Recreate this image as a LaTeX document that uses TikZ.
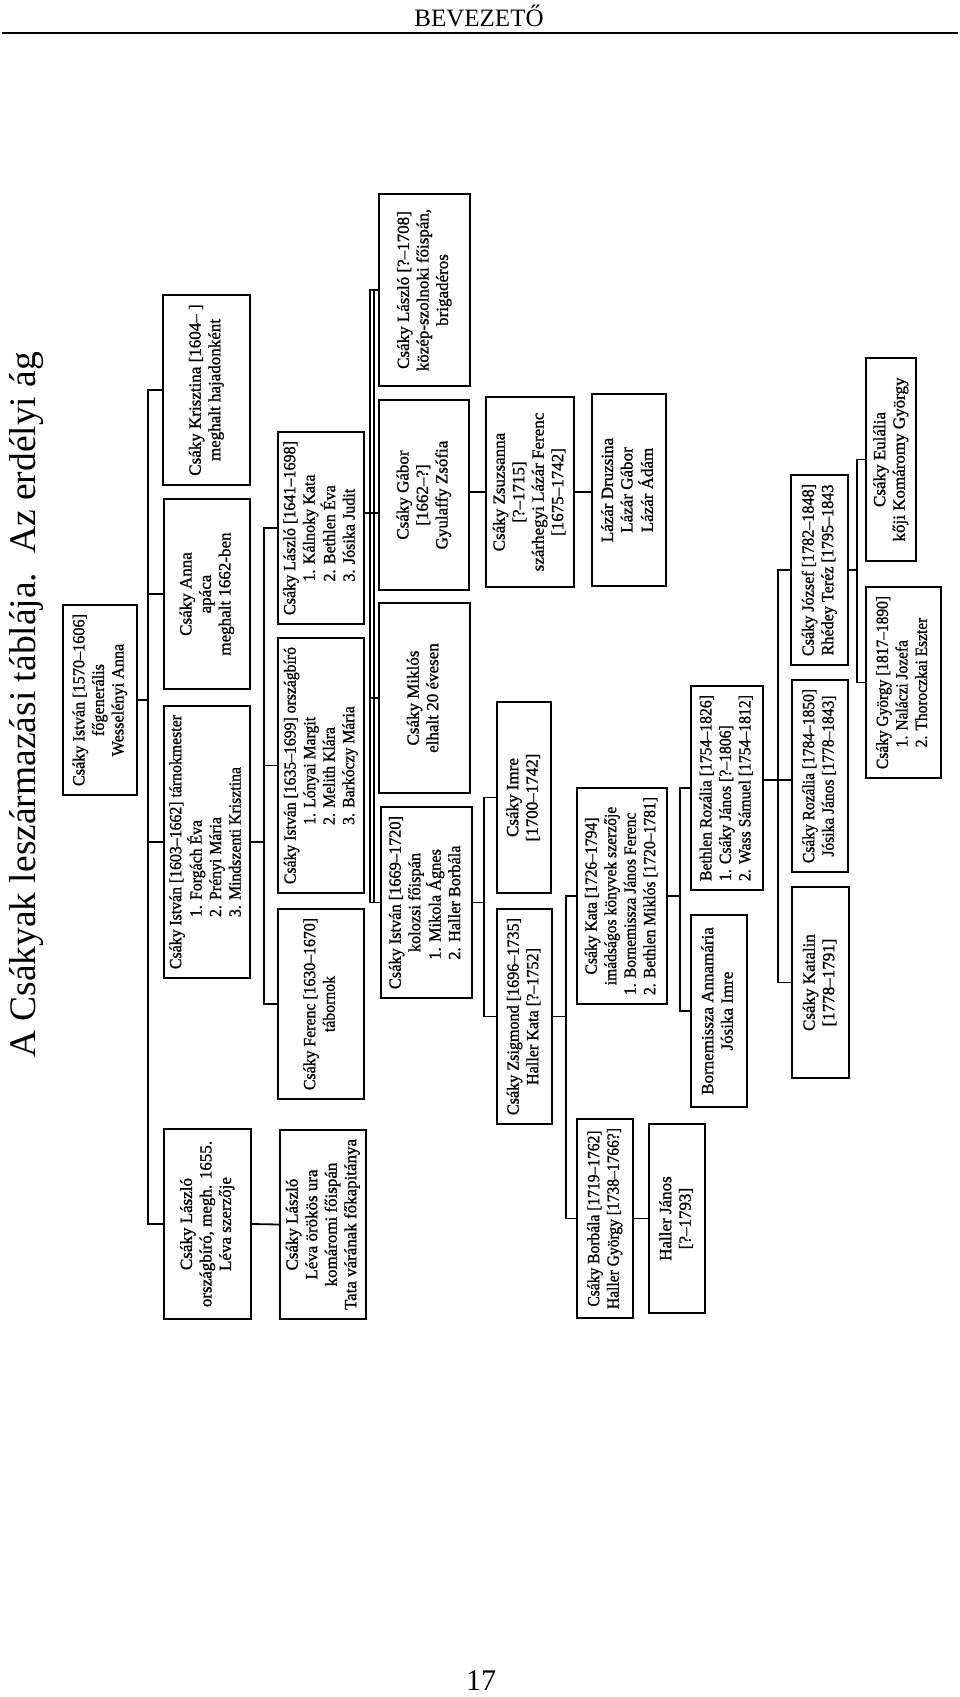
\documentclass[tikz,border=0pt]{standalone}
\usepackage{fontspec}
\setmainfont{Liberation Serif}
\newfontfamily\boxfont[FakeBold=1.2]{Liberation Serif}
\usepackage{graphicx}
\newsavebox\mybox
\newdimen\mylen
\newcommand{\mycol}[1]{\begin{tabular}{@{}c@{}}#1\end{tabular}}
\newcommand{\mylist}[1]{\begin{tabular}[t]{@{}l@{}}#1\end{tabular}}
\newcommand{\fitrot}[2]{%
 \sbox\mybox{\boxfont\fontsize{17}{19.5}\selectfont\mycol{#2}}%
 \mylen=\wd\mybox
 \pgfmathsetmacro{\myTW}{max(1,\mylen)}%
 \pgfmathsetmacro{\myS}{min(1,(#1)/\myTW)}%
 \rotatebox{90}{\scalebox{\myS}[1]{\usebox\mybox}}}
\newcommand{\bx}[6]{%
 \pgfmathsetmacro{\myBW}{#4-#2}\pgfmathsetmacro{\myBH}{#5-#3}%
 \pgfmathsetmacro{\myCX}{(#2+#4)/2}\pgfmathsetmacro{\myCY}{(#3+#5)/2}%
 \pgfmathsetmacro{\myLim}{#5-#3-18}%
 \node[box, minimum width=\myBW pt, minimum height=\myBH pt] (#1) at (\myCX,\myCY) {\fitrot{\myLim}{#6}};}
\tikzset{
  box/.style={draw, rectangle, line width=1.8pt, inner sep=0pt},
  conn/.style={line width=1.8pt, line cap=rect}
}
\begin{document}
\begin{tikzpicture}[x=1pt,y=-1pt]
\useasboundingbox (0,0) rectangle (960,1697);
% header
\node[font=\fontsize{25}{30}\selectfont, anchor=base, inner sep=0pt] (hdr) at (479,26) {BEVEZETŐ};
\coordinate (rl) at (2,33);
\coordinate (rr) at (958,33);
\draw[line width=1.5pt] (rl) -- (rr);
% title
\node[rotate=90, font=\fontsize{37.5}{42}\selectfont, inner sep=0pt] (title) at (27,705) {A Csákyak leszármazási táblája.\hspace{0.5em}Az erdélyi ág};
% page number
\node[font=\fontsize{30}{36}\selectfont, anchor=base, inner sep=0pt] (pg) at (481,1690) {17};

% boxes
\bx{i1570}{63}{605}{137}{795}{Csáky István [1570–1606]\\főgenerális\\Wesselényi Anna}
\bx{kr}{163}{295}{250}{485}{Csáky Krisztina [1604– ]\\meghalt hajadonként}
\bx{anna}{164}{499}{250}{689}{Csáky Anna\\apáca\\meghalt 1662-ben}
\bx{i1603}{164}{706}{250}{978}{Csáky István [1603–1662] tárnokmester\\\mylist{1. Forgách Éva\\2. Prényi Mária\\3. Mindszenti Krisztina}}
\bx{l1655}{164}{1129}{251}{1319}{Csáky László\\országbíró, megh. 1655.\\Léva szerzője}
\bx{l1641}{278}{432}{364}{624}{Csáky László [1641–1698]\\\mylist{1. Kálnoky Kata\\2. Bethlen Éva\\3. Jósika Judit}}
\bx{i1635}{278}{638}{364}{893}{Csáky István [1635–1699] országbíró\\\mylist{1. Lónyai Margit\\2. Melith Klára\\3. Barkóczy Mária}}
\bx{fer}{278}{909}{364}{1099}{Csáky Ferenc [1630–1670]\\tábornok}
\bx{lleva}{280}{1130}{366}{1319}{Csáky László\\Léva örökös ura\\komáromi főispán\\Tata várának főkapitánya}
\bx{l1708}{379}{194}{470}{386}{Csáky László [?–1708]\\közép-szolnoki főispán,\\brigadéros}
\bx{gab}{379}{400}{469}{590}{Csáky Gábor\\{}[1662–?]\\Gyulaffy Zsófia}
\bx{mik}{379}{603}{470}{793}{Csáky Miklós\\elhalt 20 évesen}
\bx{i1669}{381}{807}{472}{998}{Csáky István [1669–1720]\\kolozsi főispán\\\mylist{1. Mikola Ágnes\\2. Haller Borbála}}
\bx{zs}{486}{397}{574}{587}{Csáky Zsuzsanna\\{}[?–1715]\\szárhegyi Lázár Ferenc\\{}[1675–1742]}
\bx{laz}{592}{394}{666}{586}{Lázár Druzsina\\Lázár Gábor\\Lázár Ádám}
\bx{imre}{497}{702}{551}{893}{Csáky Imre\\{}[1700–1742]}
\bx{zsig}{497}{909}{552}{1124}{Csáky Zsigmond [1696–1735]\\Haller Kata [?–1752]}
\bx{kata}{577}{788}{667}{1004}{Csáky Kata [1726–1794]\\imádságos könyvek szerzője\\\mylist{1. Bornemissza János Ferenc\\2. Bethlen Miklós [1720–1781]}}
\bx{borb}{577}{1119}{633}{1318}{Csáky Borbála [1719–1762]\\Haller György [1738–1766?]}
\bx{hj}{649}{1124}{705}{1313}{Haller János\\{}[?–1793]}
\bx{rb}{691}{686}{763}{890}{Bethlen Rozália [1754–1826]\\\mylist{1. Csáky János [?–1806]\\2. Wass Sámuel [1754–1812]}}
\bx{bor}{691}{915}{747}{1107}{Bornemissza Annamária\\Jósika Imre}
\bx{rc}{792}{680}{848}{872}{Csáky Rozália [1784–1850]\\Jósika János [1778–1843]}
\bx{kat}{792}{887}{849}{1078}{Csáky Katalin\\{}[1778–1791]}
\bx{joz}{791}{475}{848}{665}{Csáky József [1782–1848]\\Rhédey Teréz [1795–1843}
\bx{eu}{866}{358}{916}{561}{Csáky Eulália\\kőji Komáromy György}
\bx{gy}{866}{587}{941}{778}{Csáky György [1817–1890]\\\mylist{1. Naláczi Jozefa\\2. Thoroczkai Eszter}}

% bus coordinates
\coordinate (busA) at (148,0);
\coordinate (busB) at (264,0);
\coordinate (busC) at (370,0);
\coordinate (busCc) at (374,0);
\coordinate (busD) at (484,0);
\coordinate (busE) at (566,0);
\coordinate (busF) at (680,0);
\coordinate (busG) at (778,0);
\coordinate (busH) at (857,0);
\coordinate (yC) at (0,513);
\coordinate (yG) at (0,780);

% connectors
\draw[conn] (i1570.east) -- (i1570.east -| busA);
\draw[conn] (busA |- kr.west) -- (busA |- l1655.west);
\foreach \n in {kr,anna,i1603,l1655} {\draw[conn] (busA |- \n.west) -- (\n.west);}

\draw[conn] (i1603.east) -- (i1603.east -| busB);
\draw[conn] (busB |- l1641.west) -- (busB |- fer.west);
\foreach \n in {l1641,i1635,fer} {\draw[conn] (busB |- \n.west) -- (\n.west);}

\draw[conn] (l1655.east) -- (lleva.west);

\draw[conn] (l1641.east |- yC) -- (gab.west |- yC);
\draw[conn] (busC |- l1708.west) -- (busC |- i1669.west);
\draw[conn] (busCc |- l1708.west) -- (busCc |- i1669.west);
\foreach \n in {l1708,mik,i1669} {\draw[conn] (busC |- \n.west) -- (\n.west);}

\draw[conn] (gab.east |- zs.west) -- (zs.west);
\draw[conn] (zs.east) -- (laz.west |- zs.east);

\draw[conn] (i1669.east) -- (i1669.east -| busD);
\draw[conn] (busD |- imre.west) -- (busD |- zsig.west);
\foreach \n in {imre,zsig} {\draw[conn] (busD |- \n.west) -- (\n.west);}

\draw[conn] (zsig.east) -- (zsig.east -| busE);
\draw[conn] (busE |- kata.west) -- (busE |- borb.west);
\foreach \n in {kata,borb} {\draw[conn] (busE |- \n.west) -- (\n.west);}

\draw[conn] (borb.east) -- (hj.west);

\draw[conn] (kata.east) -- (kata.east -| busF);
\draw[conn] (busF |- rb.west) -- (busF |- bor.west);
\foreach \n in {rb,bor} {\draw[conn] (busF |- \n.west) -- (\n.west);}

\draw[conn] (rb.east |- yG) -- (rc.west |- yG);
\draw[conn] (busG |- joz.west) -- (busG |- kat.west);
\foreach \n in {joz,kat} {\draw[conn] (busG |- \n.west) -- (\n.west);}

\draw[conn] (joz.east) -- (joz.east -| busH);
\draw[conn] (busH |- eu.west) -- (busH |- gy.west);
\foreach \n in {eu,gy} {\draw[conn] (busH |- \n.west) -- (\n.west);}
\end{tikzpicture}
\end{document}
